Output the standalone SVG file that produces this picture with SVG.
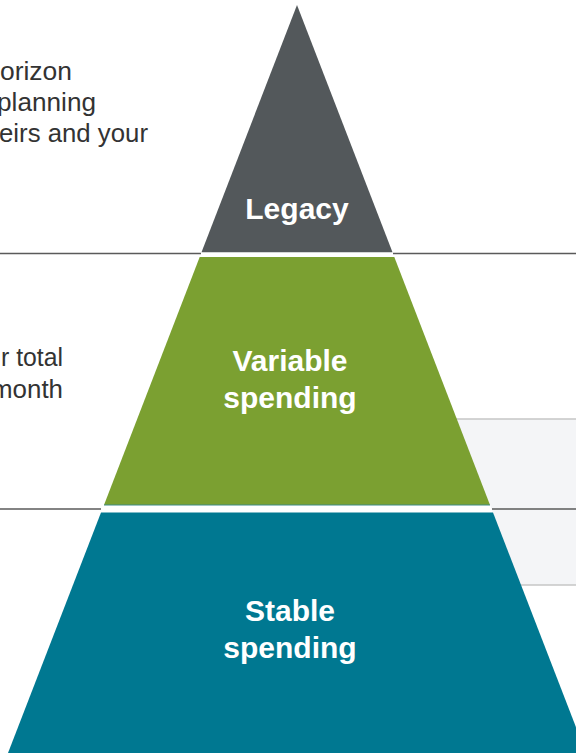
<svg xmlns="http://www.w3.org/2000/svg" width="576" height="755" viewBox="0 0 576 755">
<style>
.side{font-family:"Liberation Sans",Arial,sans-serif;font-size:26px;fill:#333333}
.lbl{font-family:"Liberation Sans",Arial,sans-serif;font-size:30px;font-weight:bold;fill:#ffffff;text-anchor:middle}
.div{stroke:#5a5a5a;stroke-width:1.5;fill:none}
.boxline{stroke:#c6c6c6;stroke-width:1.5;fill:none}
</style>
<rect width="576" height="755" fill="#ffffff"/>
<g id="right-box">
<rect x="440" y="419" width="136" height="166" fill="#f4f5f7"/>
<line class="boxline" x1="440" y1="419" x2="576" y2="419"/>
<line class="boxline" x1="440" y1="585" x2="576" y2="585"/>
</g>
<polygon points="104,505 490,505 493,512.5 101,512.5" fill="#ffffff"/>
<g id="connectors">
<line class="div" x1="0" y1="253.5" x2="201" y2="253.5"/>
<line class="div" x1="393" y1="253.5" x2="576" y2="253.5"/>
<line class="div" x1="0" y1="509" x2="101" y2="509" stroke="#8a8a8a"/>
<line class="div" x1="492" y1="509" x2="576" y2="509"/>
</g>
<g id="legacy">
<polygon points="297,5 392.5,252.3 201.5,252.3" fill="#53585b"/>
<text class="lbl" x="297" y="219">Legacy</text>
</g>
<g id="variable-spending">
<polygon points="199.7,257 394.3,257 490,505 104,505" fill="#7ba031"/>
<line x1="104" y1="505" x2="490" y2="505" stroke="#3f8c86" stroke-width="1"/>
<text class="lbl" x="290" y="371">Variable</text>
<text class="lbl" x="290" y="408">spending</text>
</g>
<g id="stable-spending">
<polygon points="101,512.5 493,512.5 586,753 8,753" fill="#007891"/>
<text class="lbl" x="290" y="621">Stable</text>
<text class="lbl" x="290" y="658">spending</text>
</g>
<g id="side-text">
<text class="side" x="0" y="80" textLength="72" lengthAdjust="spacingAndGlyphs">orizon</text>
<text class="side" x="-3" y="111" textLength="99" lengthAdjust="spacingAndGlyphs">planning</text>
<text class="side" x="-1" y="142" textLength="149" lengthAdjust="spacingAndGlyphs">eirs and your</text>
<text class="side" x="1" y="366" textLength="62" lengthAdjust="spacingAndGlyphs">r total</text>
<text class="side" x="-9" y="398" textLength="72" lengthAdjust="spacingAndGlyphs">month</text>
</g>
</svg>
